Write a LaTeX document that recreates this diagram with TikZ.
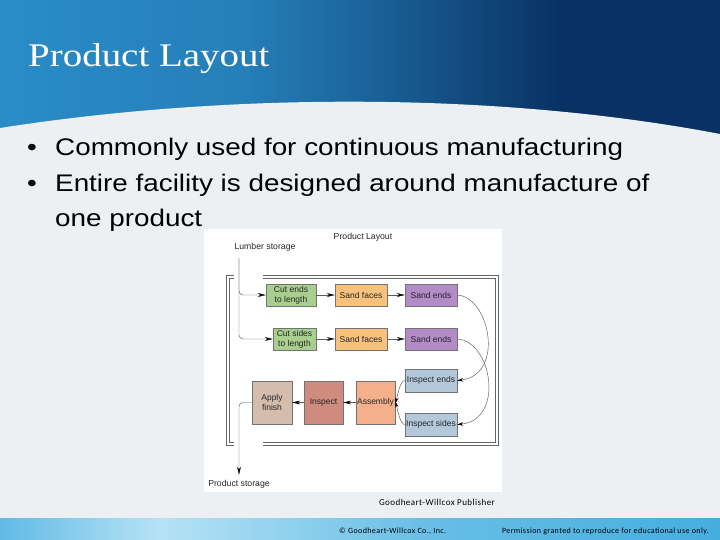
\documentclass[tikz,border=0pt]{standalone}
\usepackage{fontspec}
\setmainfont{Liberation Sans}
\newfontfamily\titlefont[FakeStretch=1.18]{Liberation Serif}
\newfontfamily\bodyfont[FakeStretch=1.16]{Liberation Sans}
\newfontfamily\footfont[LetterSpace=5]{Carlito}
\usetikzlibrary{arrows.meta}
\usetikzlibrary{calc}

\definecolor{barlight}{HTML}{2A8CC7}
\definecolor{bardark}{HTML}{093163}
\definecolor{bodygray}{HTML}{EDF0F2}
\definecolor{footblue}{HTML}{45AEDF}
\definecolor{footlight}{HTML}{B6E2F5}
\definecolor{cutgreen}{HTML}{A9CF8E}
\definecolor{sandorange}{HTML}{F8C27D}
\definecolor{sandpurple}{HTML}{B38BC7}
\definecolor{inspblue}{HTML}{B4C8DB}
\definecolor{finishtan}{HTML}{D5BDAE}
\definecolor{insprose}{HTML}{CF8B7D}
\definecolor{assypeach}{HTML}{F4B08B}

% the path box is mapped to 25bp..75bp of the shading
\pgfdeclarehorizontalshading{titlebar}{100bp}{color(0bp)=(barlight); color(25bp)=(barlight); color(42bp)=(barlight!85!bardark); color(53bp)=(barlight!45!bardark); color(64bp)=(bardark); color(100bp)=(bardark)}
\pgfdeclarehorizontalshading{footbar}{100bp}{color(0bp)=(footblue!75!footlight); color(25bp)=(footblue!75!footlight); color(36bp)=(footlight); color(55bp)=(footblue!70!footlight); color(75bp)=(footblue); color(100bp)=(footblue)}

\begin{document}
\begin{tikzpicture}[x=1pt,y=-1pt,>={Stealth[length=8pt,width=3.8pt,black]},
        box/.style={rectangle,draw=black!55,line width=.4pt,inner sep=0,align=center,
          font=\fontsize{8.5}{10}\selectfont,text=black!85},
        flow/.style={->,draw=black!65,line width=.45pt},
        curvedflow/.style={->,>={Stealth[length=6pt,width=3.4pt,black]},draw=black!65,line width=.45pt},
        frame/.style={draw=black!60,double=white,double distance=2.6pt,line width=.6pt},
        lbl/.style={inner sep=1pt,font=\fontsize{8.7}{10}\selectfont,text=black!85}]
  \useasboundingbox (0,0) rectangle (720,540);

  % slide background
  \shade[shading=titlebar] (0,0) rectangle (720,140);
  \fill[bodygray] (0,128) .. controls (230,92) and (500,92) .. (720,134) -- (720,540) -- (0,540) -- cycle;
  \shade[shading=footbar] (0,518) rectangle (720,540);

  \node[anchor=base west,inner sep=0,text=white,font=\titlefont\fontsize{33}{36}\selectfont] (title) at (28,67) {Product Layout};

  \node[anchor=base,inner sep=0,font=\bodyfont\fontsize{24}{28}\selectfont] (b1) at (32,156) {•};
  \node[anchor=base west,inner sep=0,font=\bodyfont\fontsize{24}{28}\selectfont] (t1) at (55,156) {Commonly used for continuous manufacturing};
  \node[anchor=base,inner sep=0,font=\bodyfont\fontsize{24}{28}\selectfont] (b2) at (32,192) {•};
  \node[anchor=base west,inner sep=0,font=\bodyfont\fontsize{24}{28}\selectfont] (t2) at (55,192) {Entire facility is designed around manufacture of};
  \node[anchor=base west,inner sep=0,font=\bodyfont\fontsize{24}{28}\selectfont] (t3) at (55,226) {one product};

  % the figure
  \fill[white] (204,229) rectangle (502,492);
  \node[lbl] (head) at (363,237) {Product Layout};
  \node[lbl] (ls) at (265,247) {Lumber storage};
  \node[lbl] (ps) at (239,484) {Product storage};

  \draw[frame] (234,277) -| (228,444) -- (234,444);
  \draw[frame] (263,277) -| (497,444) -- (263,444);

  \node[box,fill=cutgreen,minimum width=50,minimum height=22] (1) at (291,295) {Cut ends\\to length};
  \node[box,fill=sandorange,minimum width=52,minimum height=22] (2) at (361,295) {Sand faces};
  \node[box,fill=sandpurple,minimum width=52,minimum height=22] (3) at (431,295) {Sand ends};
  \node[box,fill=cutgreen,minimum width=43,minimum height=22] (4) at (294.5,339) {Cut sides\\to length};
  \node[box,fill=sandorange,minimum width=52,minimum height=22] (5) at (361,339) {Sand faces};
  \node[box,fill=sandpurple,minimum width=52,minimum height=22] (6) at (431,339) {Sand ends};
  \node[box,fill=inspblue,minimum width=52,minimum height=23] (10) at (431,380.5) {Inspect ends};
  \node[box,fill=inspblue,minimum width=52,minimum height=23] (11) at (431,424.5) {Inspect sides};
  \node[box,fill=finishtan,minimum width=40,minimum height=43] (7) at (272,402.5) {Apply\\finish};
  \node[box,fill=insprose,minimum width=39,minimum height=43] (8) at (323.5,402.5) {Inspect};
  \node[box,fill=assypeach,minimum width=39,minimum height=43] (9) at (375.5,402.5) {Assembly};

  \coordinate (feed) at (239,258);
  \draw[flow,rounded corners=4pt] (feed) |- (1.west);
  \draw[flow,rounded corners=4pt] (feed) |- (4.west);
  \path[flow]
    (1) edge (2)
    (2) edge (3)
    (4) edge (5)
    (5) edge (6)
    (9) edge (8)
    (8) edge (7)
    ;
  \draw[curvedflow] (3.east) .. controls (490,297) and (505,375) .. (10.east);
  \draw[curvedflow] (6.east) .. controls (492,341) and (505,420) .. (11.east);
  \draw[curvedflow] (10.west) .. controls (400,381) and (398,394) .. ([yshift=-1pt]9.east);
  \draw[curvedflow] (11.west) .. controls (400,424) and (398,411) .. ([yshift=1pt]9.east);
  \draw[flow,rounded corners=4pt,shorten >=4pt] (7.west) -| (ps.north);

  \node[inner sep=0,font=\footfont\fontsize{9}{10}\selectfont] (credit) at (437,502) {Goodheart-Willcox Publisher};
  \node[anchor=west,inner sep=0,font=\footfont\fontsize{8}{9}\selectfont] (copy) at (339,531) {© Goodheart-Willcox Co., Inc.};
  \node[anchor=east,inner sep=0,font=\footfont\fontsize{8}{9}\selectfont] (perm) at (709,531) {Permission granted to reproduce for educational use only.};
\end{tikzpicture}
\end{document}
